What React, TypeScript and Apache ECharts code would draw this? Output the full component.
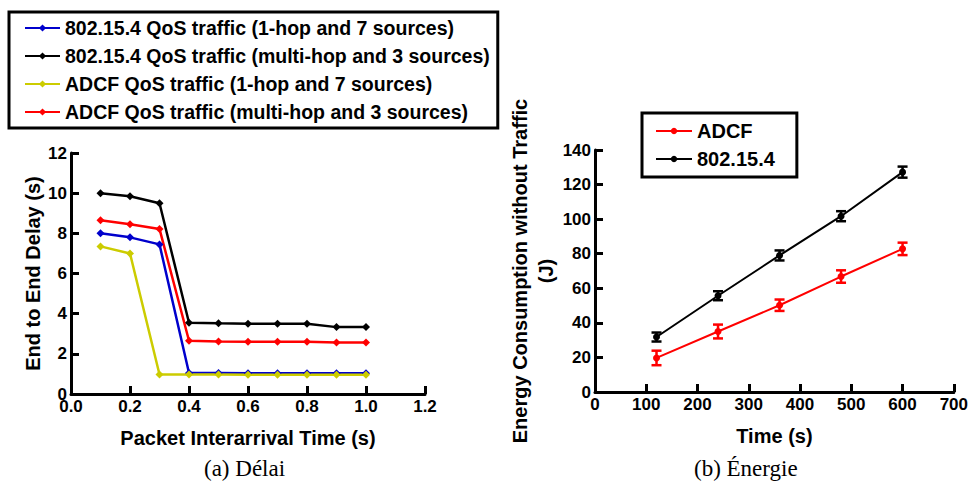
import React, { useEffect, useRef } from "react";
import * as echarts from "echarts";

// ---- Left chart (a) Délai ----
const interarrival = [0.1, 0.2, 0.3, 0.4, 0.5, 0.6, 0.7, 0.8, 0.9, 1.0];
const ieee1hop = [8.0, 7.8, 7.45, 1.05, 1.05, 1.03, 1.03, 1.03, 1.03, 1.03];
const ieeeMultihop = [10.0, 9.85, 9.5, 3.55, 3.52, 3.5, 3.5, 3.5, 3.33, 3.33];
const adcf1hop = [7.35, 7.0, 0.97, 0.97, 0.97, 0.96, 0.96, 0.96, 0.96, 0.96];
const adcfMultihop = [8.65, 8.45, 8.22, 2.65, 2.62, 2.6, 2.6, 2.6, 2.57, 2.57];
const delayNames = [
  "802.15.4 QoS traffic (1-hop and 7 sources)",
  "802.15.4 QoS traffic (multi-hop and 3 sources)",
  "ADCF QoS traffic (1-hop and 7 sources)",
  "ADCF QoS traffic (multi-hop and 3 sources)",
];

// ---- Right chart (b) Énergie ----
const timeSec = [120, 240, 360, 480, 600];
const adcfEnergy = [19.7, 35, 50.2, 66.8, 82.8];
const adcfErr = [4.2, 4, 3.3, 3.6, 3.6];
const ieeeEnergy = [31.8, 55.7, 79, 101.7, 127.2];
const ieeeErr = [2.6, 2.6, 2.9, 2.9, 3.2];
const energyNames = ["ADCF", "802.15.4"];

const SANS = "'Liberation Sans', Arial, sans-serif";

function pairs(xs: number[], ys: number[]) {
  return xs.map((x, i) => [x, ys[i]]);
}
function triples(xs: number[], ys: number[], es: number[]) {
  return xs.map((x, i) => [x, ys[i], es[i]]);
}

function errorRender(color: string) {
  return (params: any, api: any) => {
    const x = api.value(0);
    const y = api.value(1);
    const e = api.value(2);
    const top = api.coord([x, y + e]);
    const bot = api.coord([x, y - e]);
    const hw = 5;
    const style = { stroke: color, lineWidth: 2.5 };
    return {
      type: "group",
      children: [
        { type: "line", shape: { x1: top[0], y1: top[1], x2: bot[0], y2: bot[1] }, style },
        { type: "line", shape: { x1: top[0] - hw, y1: top[1], x2: top[0] + hw, y2: top[1] }, style },
        { type: "line", shape: { x1: bot[0] - hw, y1: bot[1], x2: bot[0] + hw, y2: bot[1] }, style },
      ],
    };
  };
}

export default function App() {
  const ref = useRef<HTMLDivElement>(null);
  useEffect(() => {
    if (!ref.current) return;
    const chart = echarts.init(ref.current, null, { renderer: "svg" });
    const axisLine = { show: true, lineStyle: { color: "#000", width: 3 } };
    const axisTick = { show: true, inside: true, length: 8, lineStyle: { color: "#000", width: 3 } };
    const axisLabel = (fmt?: (v: number) => string) => ({
      color: "#000",
      fontFamily: SANS,
      fontWeight: "bold",
      fontSize: 17,
      margin: 4,
      formatter: fmt,
    });
    const nameStyle = { color: "#000", fontFamily: SANS, fontWeight: "bold", fontSize: 20 };

    const lineSeries = (name: string, data: number[], color: string, xi: number, symbol: string, size: number, width: number) => ({
      name,
      type: "line",
      xAxisIndex: xi,
      yAxisIndex: xi,
      data: pairs(xi === 0 ? interarrival : timeSec, data),
      symbol,
      symbolSize: size,
      itemStyle: { color },
      lineStyle: { color, width },
      z: 3,
    });

    chart.setOption({
      animation: false,
      backgroundColor: "#fff",
      grid: [
        { left: 71, right: 546, top: 153, bottom: 92, containLabel: false },
        { left: 595, right: 13, top: 150, bottom: 94, containLabel: false },
      ],
      legend: [
        {
          data: delayNames,
          orient: "vertical",
          left: 9,
          top: 12,
          padding: [6, 8, 6, 15],
          itemGap: 8,
          itemWidth: 35,
          itemHeight: 9,
          borderColor: "#000",
          borderWidth: 3,
          borderRadius: 0,
          backgroundColor: "#fff",
          textStyle: { color: "#000", fontFamily: SANS, fontWeight: "bold", fontSize: 19.5, lineHeight: 20 },
        },
        {
          data: energyNames,
          orient: "vertical",
          left: 642,
          top: 113,
          padding: [8, 22, 8, 13],
          itemGap: 8,
          itemWidth: 36,
          itemHeight: 8,
          borderColor: "#000",
          borderWidth: 3,
          borderRadius: 0,
          backgroundColor: "#fff",
          textStyle: { color: "#000", fontFamily: SANS, fontWeight: "bold", fontSize: 20, lineHeight: 20 },
        },
      ],
      xAxis: [
        {
          gridIndex: 0,
          type: "value",
          min: 0,
          max: 1.2,
          interval: 0.2,
          axisLine,
          axisTick,
          splitLine: { show: false },
          axisLabel: axisLabel((v: number) => v.toFixed(1)),
          name: "Packet Interarrival Time (s)",
          nameLocation: "middle",
          nameGap: 34,
          nameTextStyle: nameStyle,
        },
        {
          gridIndex: 1,
          type: "value",
          min: 0,
          max: 700,
          interval: 100,
          axisLine,
          axisTick,
          splitLine: { show: false },
          axisLabel: axisLabel(),
          name: "Time (s)",
          nameLocation: "middle",
          nameGap: 34,
          nameTextStyle: nameStyle,
        },
      ],
      yAxis: [
        {
          gridIndex: 0,
          type: "value",
          min: 0,
          max: 12,
          interval: 2,
          axisLine,
          axisTick,
          splitLine: { show: false },
          axisLabel: axisLabel(),
          name: "End to End Delay (s)",
          nameLocation: "middle",
          nameGap: 28,
          nameTextStyle: nameStyle,
        },
        {
          gridIndex: 1,
          type: "value",
          min: 0,
          max: 140,
          interval: 20,
          axisLine,
          axisTick,
          splitLine: { show: false },
          axisLabel: axisLabel(),
          name: "Energy Consumption without Traffic\n(J)",
          nameLocation: "middle",
          nameGap: 32,
          nameTextStyle: { ...nameStyle, lineHeight: 26, align: "center" },
        },
      ],
      series: [
        lineSeries(delayNames[0], ieee1hop, "#0000CC", 0, "diamond", 8, 2.5),
        lineSeries(delayNames[1], ieeeMultihop, "#000000", 0, "diamond", 8, 2.5),
        lineSeries(delayNames[2], adcf1hop, "#CCCC00", 0, "diamond", 8, 2.5),
        lineSeries(delayNames[3], adcfMultihop, "#FF0000", 0, "diamond", 8, 2.5),
        lineSeries(energyNames[0], adcfEnergy, "#FF0000", 1, "circle", 7, 2),
        lineSeries(energyNames[1], ieeeEnergy, "#000000", 1, "circle", 7, 2),
        {
          type: "custom",
          name: "adcfErr",
          xAxisIndex: 1,
          yAxisIndex: 1,
          data: triples(timeSec, adcfEnergy, adcfErr),
          encode: { x: 0, y: 1 },
          renderItem: errorRender("#FF0000"),
          z: 4,
        },
        {
          type: "custom",
          name: "ieeeErr",
          xAxisIndex: 1,
          yAxisIndex: 1,
          data: triples(timeSec, ieeeEnergy, ieeeErr),
          encode: { x: 0, y: 1 },
          renderItem: errorRender("#000000"),
          z: 4,
        },
      ],
      graphic: [
        {
          type: "text",
          left: 204,
          top: 457,
          style: { text: "(a) Délai", fill: "#000", font: "23px 'Liberation Serif', serif" },
        },
        {
          type: "text",
          left: 694,
          top: 457,
          style: { text: "(b) Énergie", fill: "#000", font: "23px 'Liberation Serif', serif" },
        },
      ],
    });
    return () => chart.dispose();
  }, []);
  return <div ref={ref} style={{ width: 971, height: 486, position: "absolute", left: 0, top: 0 }} />;
}
